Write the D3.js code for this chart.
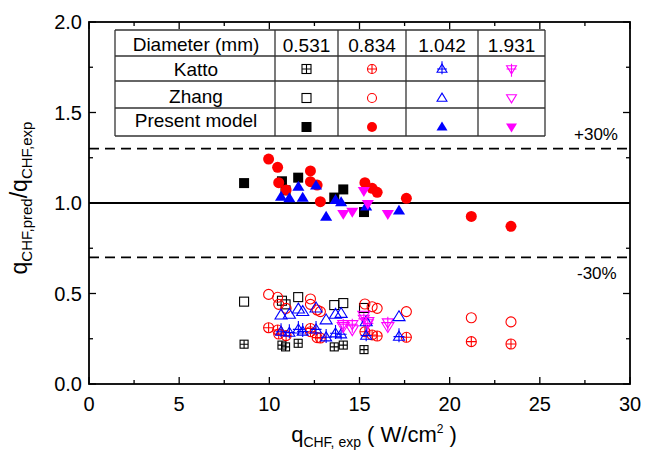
<!DOCTYPE html>
<html>
<head>
<meta charset="utf-8">
<script src="https://cdn.jsdelivr.net/npm/d3@7/dist/d3.min.js"></script>
<style>
  body { margin: 0; background: #fff; }
  svg { font-family: "Liberation Sans", Arial, sans-serif; }
</style>
</head>
<body>
<svg id="chart" width="645" height="450"></svg>
<script>
// Diameters (mm) and their series colours / shapes
const diameters = ["0.531", "0.834", "1.042", "1.931"];
const colors = ["#000000", "#ff0000", "#0000ff", "#ff00ff"];
const shapes = ["square", "circle", "triangle", "invtriangle"];
const models = ["Katto", "Zhang", "Present model"];

// Experimental CHF (W/cm2) per diameter
const qExp531 = [8.6, 10.7, 10.9, 11.6, 13.6, 14.1, 15.25];
const qExp834 = [9.96, 10.46, 10.52, 10.93, 12.28, 12.28, 12.65, 12.83, 15.3, 15.7, 15.98, 17.6, 21.2, 23.4];
const qExp1042 = [10.65, 11.11, 11.61, 11.85, 12.59, 13.15, 13.67, 13.98, 15.37, 17.19];
const qExp1931 = [14.1, 14.6, 15.24, 15.46, 16.57];

// Ratio q_pred / q_exp, present model
const present531 = [1.11, 1.12, 1.07, 1.14, 1.03, 1.075, 0.95];
const present834 = [1.243, 1.197, 1.112, 1.072, 1.177, 1.118, 1.099, 1.007, 1.112, 1.081, 1.059, 1.026, 0.926, 0.871];
const present1042 = [1.035, 1.026, 1.09, 1.029, 1.096, 0.924, 1.017, 1.004, 0.98, 0.958];
const present1931 = [0.94, 0.952, 1.066, 0.995, 0.939];

// Ratio, Zhang correlation
const zhang531 = [0.455, 0.46, 0.44, 0.48, 0.436, 0.447, 0.42];
const zhang834 = [0.495, 0.479, 0.44, 0.418, 0.47, 0.44, 0.409, 0.40, 0.442, 0.427, 0.418, 0.40, 0.366, 0.343];
const zhang1042 = [0.381, 0.385, 0.414, 0.40, 0.42, 0.354, 0.385, 0.39, 0.344, 0.372];
const zhang1931 = [0.317, 0.30, 0.38, 0.345, 0.317];

// Ratio, Katto correlation
const katto531 = [0.22, 0.215, 0.205, 0.225, 0.205, 0.215, 0.19];
const katto834 = [0.311, 0.298, 0.276, 0.267, 0.307, 0.289, 0.256, 0.254, 0.289, 0.271, 0.265, 0.258, 0.234, 0.221];
const katto1042 = [0.289, 0.284, 0.302, 0.29, 0.302, 0.258, 0.28, 0.275, 0.267, 0.262];
const katto1931 = [0.33, 0.33, 0.36, 0.335, 0.34];

// Axis ticks and reference lines
const xTicks = [0, 5, 10, 15, 20, 25, 30];
const yTicks = [0.0, 0.5, 1.0, 1.5, 2.0];
const bandLines = [1.3, 0.7];
const bandLabels = ["+30%", "-30%"];

const qExp = [qExp531, qExp834, qExp1042, qExp1931];
const ratios = {
  "Katto": [katto531, katto834, katto1042, katto1931],
  "Zhang": [zhang531, zhang834, zhang1042, zhang1931],
  "Present model": [present531, present834, present1042, present1931]
};

const svg = d3.select("#chart");
const margin = { left: 89, right: 15, top: 22, bottom: 66 };
const W = 645, H = 450;
const x = d3.scaleLinear().domain([0, 30]).range([margin.left, W - margin.right]);
const y = d3.scaleLinear().domain([0, 2]).range([H - margin.bottom, margin.top]);

// Marker drawing: shape, model style (fill / open / crossed), colour
function marker(g, shape, model, color, cx, cy, s) {
  const filled = model === "Present model";
  const crossed = model === "Katto";
  const fill = filled ? color : "none";
  const sw = filled ? 0 : 1.1;
  const h = s / 2;
  if (shape === "square") {
    g.append("rect").attr("x", cx - h).attr("y", cy - h).attr("width", s).attr("height", s)
      .attr("fill", fill).attr("stroke", color).attr("stroke-width", sw);
    if (crossed) {
      g.append("path").attr("d", `M${cx - h},${cy}H${cx + h}M${cx},${cy - h}V${cy + h}`)
        .attr("stroke", color).attr("stroke-width", sw);
    }
  } else if (shape === "circle") {
    g.append("circle").attr("cx", cx).attr("cy", cy).attr("r", h)
      .attr("fill", fill).attr("stroke", color).attr("stroke-width", sw);
    if (crossed) {
      g.append("path").attr("d", `M${cx - h},${cy}H${cx + h}M${cx},${cy - h}V${cy + h}`)
        .attr("stroke", color).attr("stroke-width", sw);
    }
  } else {
    const dir = shape === "triangle" ? 1 : -1;
    const th = s * 0.9;
    const apex = cy - dir * th * 0.6;
    const base = cy + dir * th * 0.4;
    g.append("path").attr("d", `M${cx},${apex}L${cx + h * 1.1},${base}L${cx - h * 1.1},${base}Z`)
      .attr("fill", fill).attr("stroke", color).attr("stroke-width", sw);
    if (crossed) {
      g.append("path")
        .attr("d", `M${cx},${apex - dir * 3}V${base + dir * 2}M${cx - h * 1.1},${cy}H${cx + h * 1.1}`)
        .attr("stroke", color).attr("stroke-width", sw);
    }
  }
}

// Reference lines
svg.append("line").attr("x1", x(0)).attr("x2", x(30)).attr("y1", y(1)).attr("y2", y(1))
  .attr("stroke", "#000").attr("stroke-width", 1.8);
bandLines.forEach(v => {
  svg.append("line").attr("x1", x(0)).attr("x2", x(30)).attr("y1", y(v)).attr("y2", y(v))
    .attr("stroke", "#000").attr("stroke-width", 1.8).attr("stroke-dasharray", "10,6");
});
svg.append("text").attr("x", 574).attr("y", y(1.3) - 9).attr("font-size", 17).text(bandLabels[0]);
svg.append("text").attr("x", 577).attr("y", y(0.7) + 22).attr("font-size", 17).text(bandLabels[1]);

// Data markers: Katto, Zhang underneath, present model on top
const plot = svg.append("g");
const sizes = { "Katto": [8, 10, 10, 10], "Zhang": [9, 10, 11, 11], "Present model": [10, 11, 11, 11] };
["Katto", "Zhang", "Present model"].forEach(m => {
  ratios[m].forEach((arr, i) => {
    arr.forEach((v, j) => marker(plot, shapes[i], m, colors[i], x(qExp[i][j]), y(v), sizes[m][i]));
  });
});

// Axes with inward ticks on all four sides
const axG = svg.append("g").attr("stroke", "#000");
axG.append("rect").attr("x", x(0)).attr("y", y(2)).attr("width", x(30) - x(0)).attr("height", y(0) - y(2))
  .attr("fill", "none").attr("stroke-width", 1.8);
d3.range(0, 30.01, 2.5).forEach(v => {
  const len = (v % 5 === 0) ? 7 : 4;
  axG.append("line").attr("x1", x(v)).attr("x2", x(v)).attr("y1", y(0)).attr("y2", y(0) - len).attr("stroke-width", 1.3);
  axG.append("line").attr("x1", x(v)).attr("x2", x(v)).attr("y1", y(2)).attr("y2", y(2) + len).attr("stroke-width", 1.3);
});
d3.range(0, 2.001, 0.25).forEach(v => {
  const len = (Math.abs(v * 2 - Math.round(v * 2)) < 1e-6) ? 7 : 4;
  axG.append("line").attr("x1", x(0)).attr("x2", x(0) + len).attr("y1", y(v)).attr("y2", y(v)).attr("stroke-width", 1.3);
  axG.append("line").attr("x1", x(30)).attr("x2", x(30) - len).attr("y1", y(v)).attr("y2", y(v)).attr("stroke-width", 1.3);
});
xTicks.forEach(v => {
  svg.append("text").attr("x", x(v)).attr("y", y(0) + 27).attr("text-anchor", "middle")
    .attr("font-size", 20).text(v);
});
yTicks.forEach(v => {
  svg.append("text").attr("x", x(0) - 7).attr("y", y(v) + 7).attr("text-anchor", "end")
    .attr("font-size", 20).text(v.toFixed(1));
});

// Axis titles
const xt = svg.append("text").attr("x", 374).attr("y", 442).attr("text-anchor", "middle").attr("font-size", 22);
xt.append("tspan").text("q");
xt.append("tspan").attr("font-size", 14).attr("dy", 5).text("CHF, exp");
xt.append("tspan").attr("dy", -5).text(" ( W/cm");
xt.append("tspan").attr("font-size", 12).attr("dy", -9).text("2");
xt.append("tspan").attr("dy", 9).text(" )");

const yt = svg.append("text").attr("transform", "translate(27,198) rotate(-90)")
  .attr("text-anchor", "middle").attr("font-size", 23);
yt.append("tspan").text("q");
yt.append("tspan").attr("font-size", 15).attr("dy", 5).text("CHF,pred");
yt.append("tspan").attr("dy", -5).text("/q");
yt.append("tspan").attr("font-size", 15).attr("dy", 5).text("CHF,exp");

// Legend table
const tbl = svg.append("g");
const colEdges = [115, 275, 338, 406, 478, 545];
const rowEdges = [30, 56, 81, 108, 136];
tbl.append("rect").attr("x", 115).attr("y", 30).attr("width", 430).attr("height", 106).attr("fill", "#fff");
rowEdges.forEach(ry => tbl.append("line").attr("x1", colEdges[0]).attr("x2", colEdges[5])
  .attr("y1", ry).attr("y2", ry).attr("stroke", "#333").attr("stroke-width", 1.3));
colEdges.forEach(cx => tbl.append("line").attr("x1", cx).attr("x2", cx)
  .attr("y1", rowEdges[0]).attr("y2", rowEdges[4]).attr("stroke", "#333").attr("stroke-width", 1.3));
tbl.append("text").attr("x", (colEdges[0] + colEdges[1]) / 2 + 1).attr("y", 51).attr("text-anchor", "middle")
  .attr("font-size", 19).text("Diameter (mm)");
diameters.forEach((d, i) => {
  tbl.append("text").attr("x", (colEdges[i + 1] + colEdges[i + 2]) / 2).attr("y", 52).attr("text-anchor", "middle")
    .attr("font-size", 19).text(d);
});
const rowY = [69, 98, 127];
const textY = [76, 103, 127];
models.forEach((m, r) => {
  tbl.append("text").attr("x", (colEdges[0] + colEdges[1]) / 2 + 1).attr("y", textY[r]).attr("text-anchor", "middle")
    .attr("font-size", 19).text(m);
  shapes.forEach((s, i) => {
    marker(tbl, s, m, colors[i], (colEdges[i + 1] + colEdges[i + 2]) / 2, rowY[r], m === "Present model" ? 10 : 9);
  });
});
</script>
</body>
</html>
